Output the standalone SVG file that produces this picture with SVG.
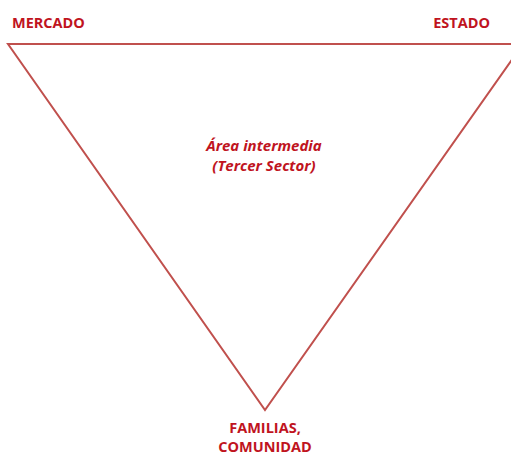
<svg xmlns="http://www.w3.org/2000/svg" width="511" height="452" viewBox="0 0 511 452">
<style>
.lbl{font-family:"Open Sans","Liberation Sans",sans-serif;font-weight:bold;font-size:14.5px;fill:#c0141e;}
.it{font-style:italic;font-size:15px;}
.edge{fill:none;stroke:#c0504d;stroke-width:2;stroke-linejoin:miter;}
</style>
<rect width="511" height="452" fill="#ffffff"/>
<g id="connectors">
<polygon class="edge" points="8,44 523,44 265,410"/>
</g>
<g id="mercado"><text class="lbl" x="12" y="28">MERCADO</text></g>
<g id="estado"><text class="lbl" x="490" y="28" text-anchor="end">ESTADO</text></g>
<g id="area"><text class="lbl it" x="264" y="151" text-anchor="middle">Área intermedia</text>
<text class="lbl it" x="264" y="171" text-anchor="middle">(Tercer Sector)</text></g>
<g id="familias"><text class="lbl" x="265" y="433" text-anchor="middle">FAMILIAS,</text>
<text class="lbl" x="265" y="452" text-anchor="middle">COMUNIDAD</text></g>
</svg>
